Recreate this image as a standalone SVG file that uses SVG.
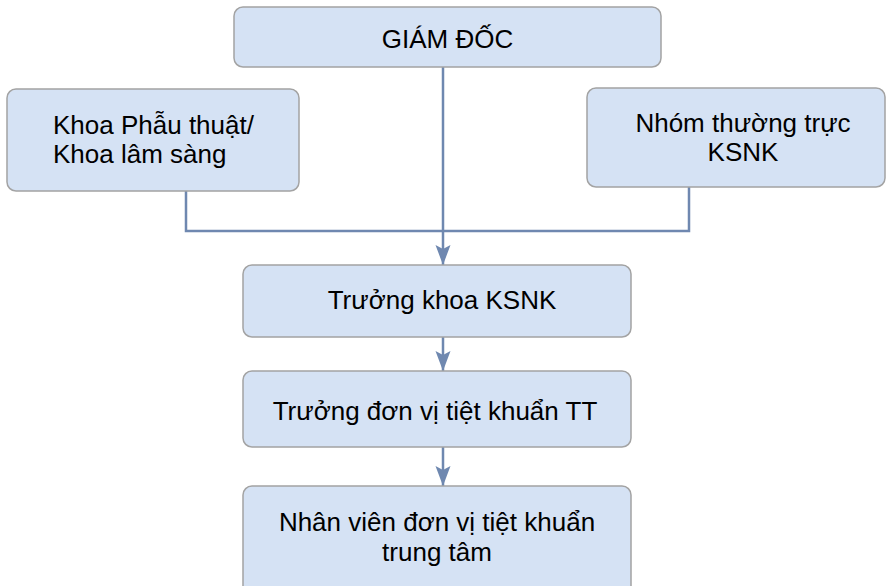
<svg xmlns="http://www.w3.org/2000/svg" width="889" height="586" viewBox="0 0 889 586">
  <style>
    .box { fill: #d5e2f4; stroke: #a3a3a3; stroke-width: 1.5; }
    .lbl { font-family: "Liberation Sans", Arial, sans-serif; font-size: 26px; fill: #000; }
    .mid { text-anchor: middle; }
    .wire { fill: none; stroke: #6f88b0; stroke-width: 2.5; }
  </style>
  <defs>
    <marker id="arrow" markerWidth="20" markerHeight="16" refX="20" refY="8" orient="auto" markerUnits="userSpaceOnUse">
      <path d="M0,0.5 L20,8 L0,15.5 L4,8 Z" fill="#6f88b0"/>
    </marker>
  </defs>

  <rect width="889" height="586" fill="#fff"/>

  <g id="connectors">
    <polyline class="wire" points="186,191 186,231 689,231 689,187"/>
    <line class="wire" x1="443" y1="67" x2="443" y2="265" marker-end="url(#arrow)"/>
    <line class="wire" x1="443" y1="337" x2="443" y2="371" marker-end="url(#arrow)"/>
    <line class="wire" x1="443" y1="447" x2="443" y2="486" marker-end="url(#arrow)"/>
  </g>

  <g id="giam-doc">
    <rect class="box" x="234" y="7" width="427" height="60" rx="9"/>
    <text class="lbl mid" x="447.5" y="48">GIÁM ĐỐC</text>
  </g>

  <g id="khoa-phau-thuat">
    <rect class="box" x="7" y="89" width="292" height="102" rx="9"/>
    <text class="lbl" x="53" y="134">Khoa Phẫu thuật/</text>
    <text class="lbl" x="53" y="163">Khoa lâm sàng</text>
  </g>

  <g id="nhom-thuong-truc">
    <rect class="box" x="587" y="88" width="298" height="99" rx="9"/>
    <text class="lbl mid" x="743" y="132">Nhóm thường trực</text>
    <text class="lbl mid" x="743" y="161">KSNK</text>
  </g>

  <g id="truong-khoa">
    <rect class="box" x="243" y="265" width="388" height="72" rx="9"/>
    <text class="lbl mid" x="442" y="309">Trưởng khoa KSNK</text>
  </g>

  <g id="truong-don-vi">
    <rect class="box" x="243" y="371" width="388" height="76" rx="9"/>
    <text class="lbl mid" x="435" y="420">Trưởng đơn vị tiệt khuẩn TT</text>
  </g>

  <g id="nhan-vien">
    <rect class="box" x="243" y="486" width="388" height="110" rx="9"/>
    <text class="lbl mid" x="437" y="531">Nhân viên đơn vị tiệt khuẩn</text>
    <text class="lbl mid" x="437" y="561">trung tâm</text>
  </g>
</svg>
